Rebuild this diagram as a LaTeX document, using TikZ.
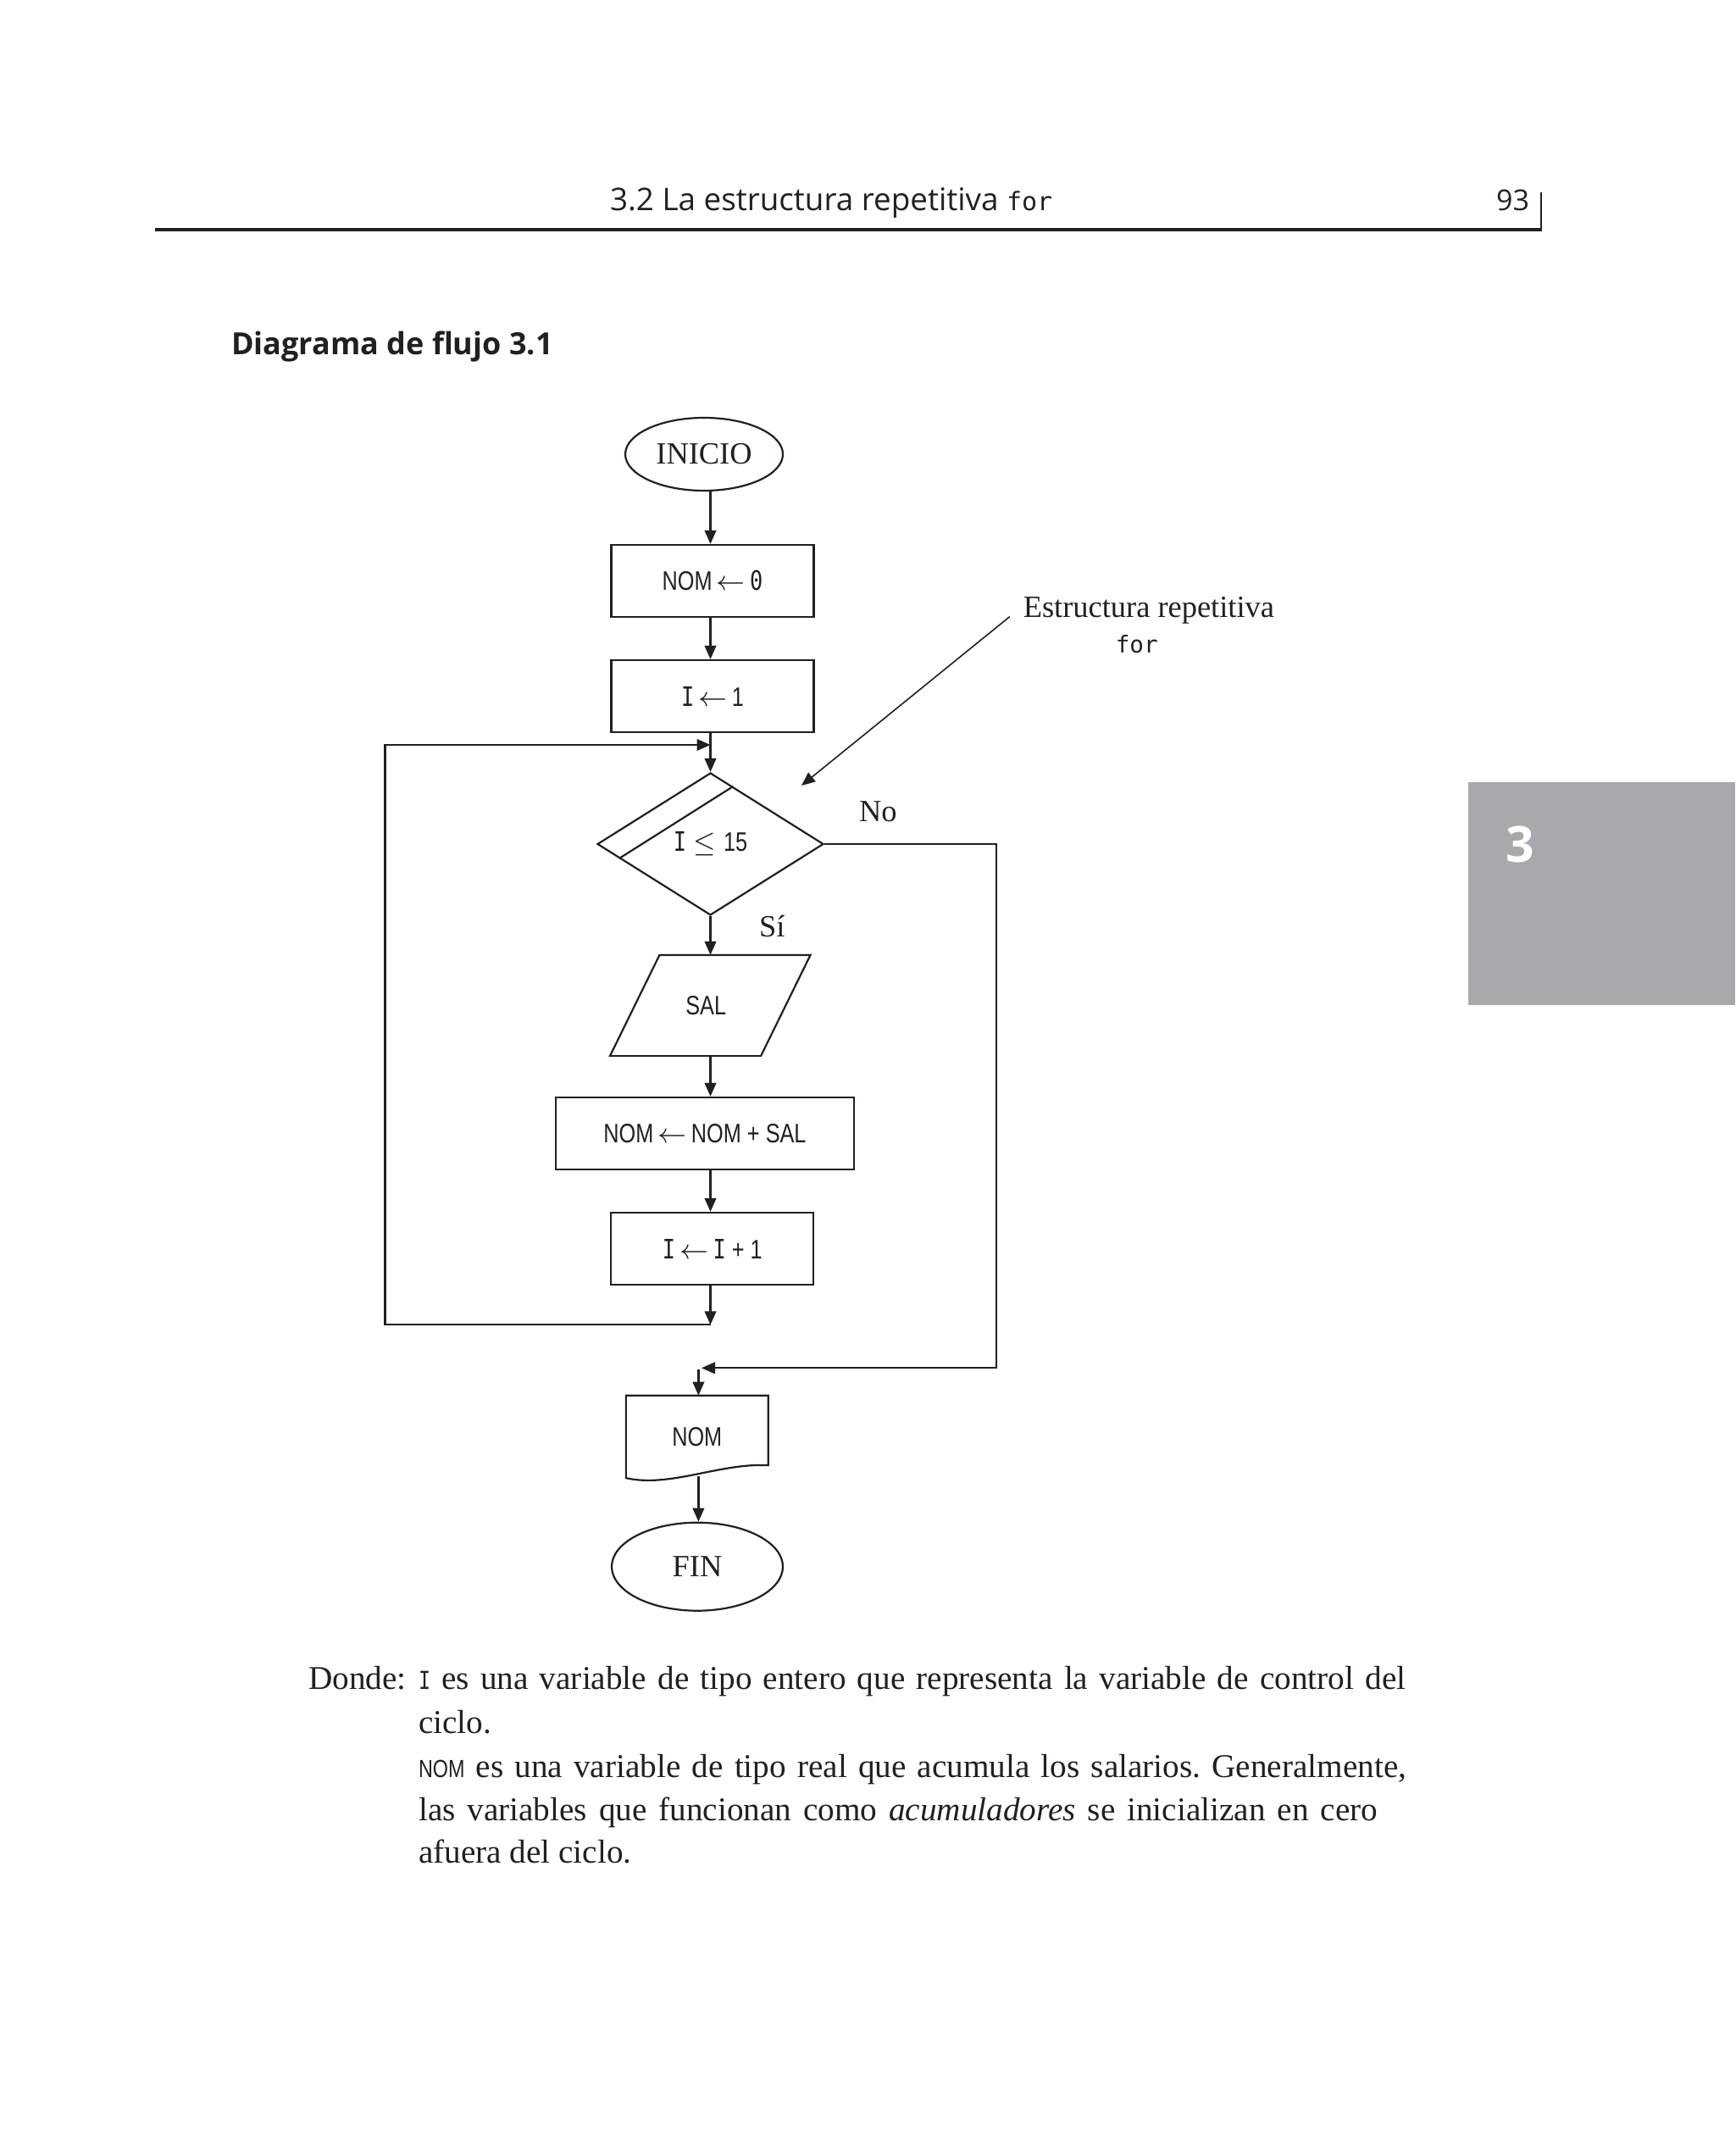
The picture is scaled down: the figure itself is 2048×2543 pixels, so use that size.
\documentclass[tikz,border=0pt]{standalone}
\usepackage{fontspec}
\setmainfont{Liberation Serif}
\newfontfamily\hdr{Open Sans}
\newfontfamily\bx[FakeStretch=0.8]{Liberation Sans}
\newfontfamily\bxm[FakeStretch=0.8]{DejaVu Sans Mono}
\newfontfamily\mono{DejaVu Sans Mono}
\usetikzlibrary{shapes.geometric,arrows.meta,calc}
\definecolor{tabgray}{RGB}{169,168,172}
\definecolor{ink}{RGB}{35,31,32}
\newcommand{\bvar}[1]{{\bx\fontsize{7.3}{8}\selectfont #1}}
\newcommand{\bvarm}[1]{{\bxm\fontsize{7.3}{8}\selectfont #1}}
\newcommand{\asg}{\,$\leftarrow$\,}
\frenchspacing
\begin{document}
\begin{tikzpicture}[x=0.25pt,y=-0.25pt,
  line width=0.55pt, draw=ink, text=ink,
  arr/.style={-{Triangle[length=4pt,width=3.4pt]}},
  boxfont/.style={font=\bx\fontsize{7.9}{9}\selectfont},
  proc/.style={draw, rectangle, minimum width=59.75pt, minimum height=21.25pt, inner sep=0pt, boxfont},
  term/.style={draw, ellipse, inner sep=0pt, font=\fontsize{9.1}{11}\selectfont},
  lbl/.style={inner sep=0pt, font=\fontsize{9.1}{11}\selectfont},
  body/.style={inner sep=0pt, anchor=base west, font=\fontsize{9.8}{11}\selectfont},
]
\fill[white] (0,0) rectangle (2048,2543);
\useasboundingbox (0,0) rectangle (2048,2543);

% header
\node[anchor=base west, inner sep=0pt, font=\hdr\fontsize{9.2}{10}\selectfont] (hd) at (719,249) {3.2 La estructura repetitiva {\mono\fontsize{7.5}{8}\selectfont for}};
\node[anchor=base east, inner sep=0pt, font=\hdr\fontsize{8.5}{10}\selectfont] (pg) at (1806,249) {93};
\draw[line width=0.95pt] (182.5,270.7) -- (1819.5,270.7);
\draw[line width=0.45pt] (1819,227) -- (1819,271);

% title
\node[anchor=base west, inner sep=0pt, font=\hdr\bfseries\fontsize{9}{11}\selectfont] (title) at (272,419) {Diagrama de flujo 3.1};

% chapter tab
\fill[tabgray] (1733,922.6) rectangle (2048,1185.5);
\node[anchor=base, inner sep=0pt, text=white, font=\hdr\bfseries\fontsize{14.7}{16}\selectfont] (tab) at (1794,1018) {3};

% flowchart nodes
\coordinate (axis) at (838.5,0);
\node[term, minimum width=46.5pt, minimum height=21.5pt] (ini) at (831,536) {INICIO};
\node[proc] (n0) at (841,685.5) {NOM\asg{\bxm 0}};
\node[proc] (i1) at (841,821.5) {{\bxm I}\asg 1};
\node[draw, diamond, minimum width=66.75pt, minimum height=42pt, inner sep=0pt, boxfont] (dec) at (838.5,996) {{\bxm I}\;$\leq$\;15};
\draw ($(dec.north)!0.2!(dec.east)$) -- ($(dec.west)!0.2!(dec.south)$);
\node[minimum width=58.6pt, minimum height=29.25pt, inner sep=0pt, boxfont] (sal) at (838.25,1186.5) {\hspace*{-2.5pt}SAL};
\draw ($(sal.north west)+(58.5,0)$) -- (sal.north east) -- ($(sal.south east)-(58.5,0)$) -- (sal.south west) -- cycle;
\node[proc, minimum width=88pt] (acc) at (832,1337.5) {NOM\asg NOM + SAL};
\node[proc] (inc) at (840.8,1473.5) {{\bxm I}\asg{\bxm I} + 1};
\node[minimum width=41.4pt, minimum height=23.8pt, inner sep=0pt, boxfont] (doc) at (822.75,1695.4) {NOM};
\draw (doc.north west) -- (doc.north east) -- ($(doc.south east)+(0,-15)$) .. controls (850,1726) and (790,1756) .. (doc.south west) -- cycle;
\node[term, minimum width=50.5pt, minimum height=26pt] (fin) at (823,1848.7) {FIN};

% labels
\node[lbl, anchor=base west] (est) at (1206.7,728.3) {Estructura repetitiva};
\node[anchor=base, inner sep=0pt, font=\mono\fontsize{6.9}{8}\selectfont] (for) at (1341.7,770.7) {for};
\node[lbl, anchor=base west] (no) at (1013,970) {No};
\node[lbl, anchor=base west] (si) at (895,1105) {Sí};

% connectors
\coordinate (lt) at (454.5,879);
\coordinate (lb) at (454.5,1563.3);
\coordinate (rt) at (1176,996);
\coordinate (rb) at (1176,1614.3);
\coordinate (mj) at (828,1614.3);
\coordinate (dtop) at (824.4,1615.5);
\coordinate (docb) at (824.4,1741.7);
\coordinate (an) at (1191.7,727.7);
\coordinate (at) at (946,927);

\draw[arr] (ini.south -| axis) -- (n0.north -| axis);
\draw[arr] (n0.south -| axis) -- (i1.north -| axis);
\draw[arr] (i1.south -| axis) -- (dec.north);
\draw[arr] (dec.south) -- (sal.north -| axis);
\draw[arr] (sal.south -| axis) -- (acc.north -| axis);
\draw[arr] (acc.south -| axis) -- (inc.north -| axis);
\draw[arr] (inc.south -| axis) -- (lb -| axis);
\draw[arr] (lb -| axis) -- (lb) -- (lt) -- (lt -| axis);
\draw[arr] (dec.east) -- (rt) -- (rb) -- (mj);
\draw[arr] (dtop) -- (dtop |- doc.north);
\draw[arr] (docb) -- (docb |- fin.north);
\draw[arr, line width=0.4pt] (an) -- (at);

% body text
\node[body] (dd) at (363,1993) {Donde:};
\node[body] (l1) at (493,1993) {\makebox[291.25pt][s]{\bvarm{I} es una variable de tipo entero que representa la variable de control del}};
\node[body] (l2) at (493,2045) {ciclo.};
\node[body] (l3) at (493,2097) {\makebox[291.5pt][s]{\bvar{NOM} es una variable de tipo real que acumula los salarios. Generalmente,}};
\node[body] (l4) at (493,2148) {\makebox[283pt][s]{las variables que funcionan como \textit{acumuladores} se inicializan en cero}};
\node[body] (l5) at (493,2198) {afuera del ciclo.};
\end{tikzpicture}
\end{document}
